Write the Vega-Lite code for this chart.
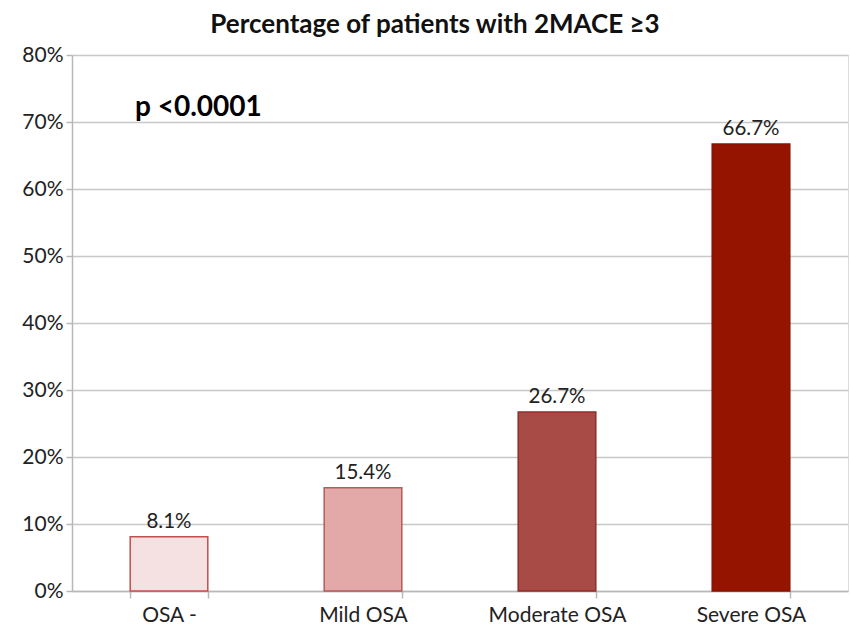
{
  "$schema": "https://vega.github.io/schema/vega-lite/v6.json",
  "width": 776,
  "height": 536,
  "autosize": "none",
  "padding": {"left": 72, "top": 55, "right": 2, "bottom": 35},
  "background": "white",
  "title": {
    "text": "Percentage of patients with 2MACE ≥3",
    "font": "Lato",
    "fontSize": 26,
    "fontWeight": "bold",
    "color": "#111111",
    "anchor": "middle",
    "dx": -25,
    "offset": 6
  },
  "data": {
    "values": [
      {"group": "OSA -", "pct": 0.081, "label": "8.1%"},
      {"group": "Mild OSA", "pct": 0.154, "label": "15.4%"},
      {"group": "Moderate OSA", "pct": 0.267, "label": "26.7%"},
      {"group": "Severe OSA", "pct": 0.667, "label": "66.7%"}
    ]
  },
  "encoding": {
    "x": {
      "field": "group",
      "type": "nominal",
      "sort": null,
      "scale": {"paddingInner": 0.6, "paddingOuter": 0.3},
      "axis": {
        "title": null,
        "labelAngle": 0,
        "labelFont": "Lato",
        "labelFontSize": 21,
        "labelColor": "#222222",
        "labelPadding": 6,
        "domainColor": "#b8b8b8",
        "domainWidth": 1.5,
        "tickColor": "#b8b8b8",
        "tickWidth": 1.5,
        "tickSize": 7,
        "tickBand": "extent",
        "grid": false
      }
    },
    "y": {
      "field": "pct",
      "type": "quantitative",
      "scale": {"domain": [0, 0.8]},
      "axis": {
        "title": null,
        "format": ".0%",
        "values": [0, 0.1, 0.2, 0.3, 0.4, 0.5, 0.6, 0.7, 0.8],
        "labelFont": "Lato",
        "labelFontSize": 21,
        "labelColor": "#222222",
        "labelPadding": 3,
        "labelOverlap": false,
        "domainColor": "#b8b8b8",
        "domainWidth": 1.5,
        "tickColor": "#b8b8b8",
        "tickWidth": 1.5,
        "tickSize": 6,
        "gridColor": "#c8c8c8",
        "gridWidth": 1.5
      }
    }
  },
  "layer": [
    {
      "mark": {"type": "bar", "strokeWidth": 1.5},
      "encoding": {
        "color": {
          "field": "group",
          "type": "nominal",
          "legend": null,
          "scale": {
            "domain": ["OSA -", "Mild OSA", "Moderate OSA", "Severe OSA"],
            "range": ["#f5e1e1", "#e3a8a8", "#a84a45", "#941400"]
          }
        },
        "stroke": {
          "field": "group",
          "type": "nominal",
          "legend": null,
          "scale": {
            "domain": ["OSA -", "Mild OSA", "Moderate OSA", "Severe OSA"],
            "range": ["#c0504d", "#b85a58", "#8e2e2a", "#8a1200"]
          }
        }
      }
    },
    {
      "mark": {"type": "text", "baseline": "alphabetic", "dy": -9, "font": "Lato", "fontSize": 20.5, "color": "#222222"},
      "encoding": {"text": {"field": "label"}}
    },
    {
      "data": {"values": [{"group": "OSA -", "pct": 0.721, "note": "p <0.0001"}]},
      "mark": {"type": "text", "align": "left", "baseline": "middle", "dx": -34, "font": "Lato", "fontSize": 28, "fontWeight": "bold", "color": "#000000"},
      "encoding": {"text": {"field": "note"}}
    }
  ]
}
